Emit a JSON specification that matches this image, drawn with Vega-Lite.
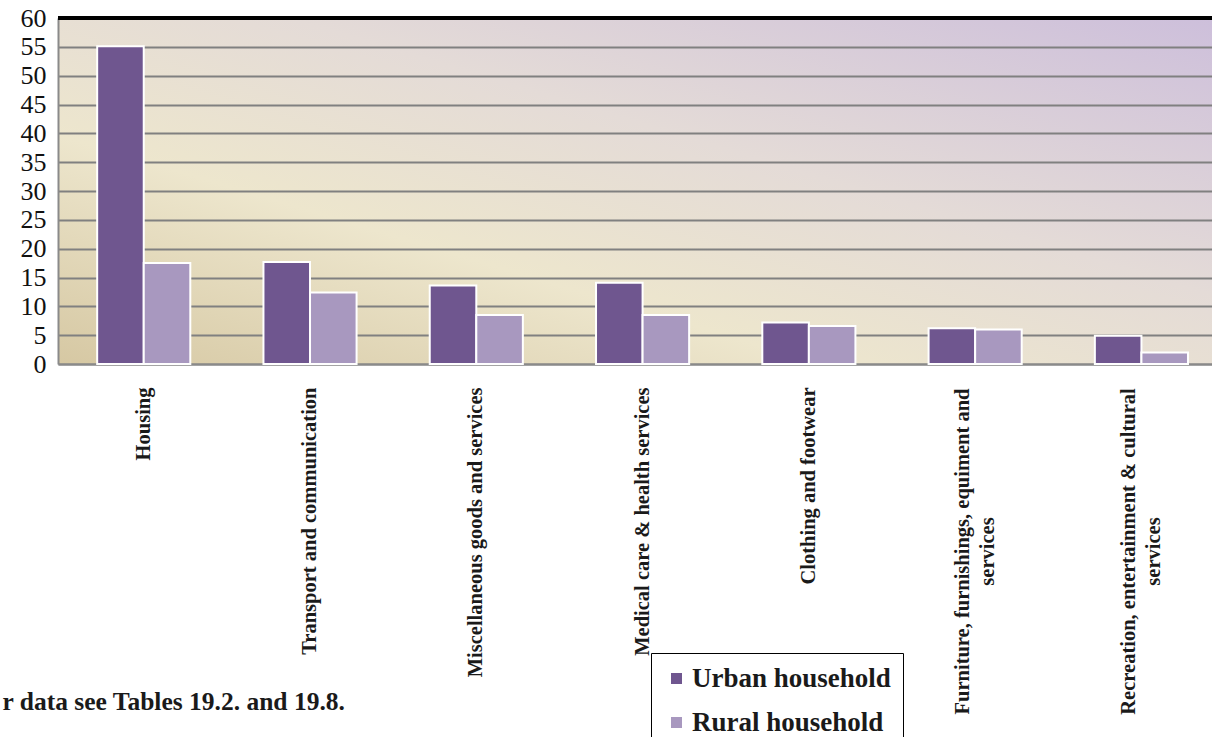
{
  "$schema": "https://vega.github.io/schema/vega-lite/v6.json",
  "width": 1154,
  "height": 346,
  "autosize": {"type": "none"},
  "padding": {"left": 58, "top": 18, "right": 0, "bottom": 373},
  "background": "white",
  "config": {
    "view": {
      "stroke": null,
      "fill": {
        "gradient": "linear",
        "x1": 0, "y1": 1, "x2": 1, "y2": 0,
        "stops": [
          {"offset": 0, "color": "#d6c8a3"},
          {"offset": 0.33, "color": "#ede6cd"},
          {"offset": 0.6, "color": "#e4dbd7"},
          {"offset": 1, "color": "#cdbfdb"}
        ]
      }
    },
    "font": "Liberation Serif"
  },
  "data": {
    "values": [
      {"category": "Housing", "household": "Urban household", "value": 55.1},
      {"category": "Housing", "household": "Rural household", "value": 17.5},
      {"category": "Transport and communication", "household": "Urban household", "value": 17.7},
      {"category": "Transport and communication", "household": "Rural household", "value": 12.4},
      {"category": "Miscellaneous goods and services", "household": "Urban household", "value": 13.6},
      {"category": "Miscellaneous goods and services", "household": "Rural household", "value": 8.5},
      {"category": "Medical care & health services", "household": "Urban household", "value": 14.1},
      {"category": "Medical care & health services", "household": "Rural household", "value": 8.5},
      {"category": "Clothing and footwear", "household": "Urban household", "value": 7.2},
      {"category": "Clothing and footwear", "household": "Rural household", "value": 6.6},
      {"category": "Furniture, furnishings, equiment and services", "household": "Urban household", "value": 6.2},
      {"category": "Furniture, furnishings, equiment and services", "household": "Rural household", "value": 6.0},
      {"category": "Recreation, entertainment & cultural services", "household": "Urban household", "value": 4.9},
      {"category": "Recreation, entertainment & cultural services", "household": "Rural household", "value": 2.0}
    ]
  },
  "resolve": {"axis": {"y": "independent"}},
  "layer": [
    {
      "mark": {"type": "bar", "stroke": "white", "strokeWidth": 2},
      "encoding": {
        "x": {
          "field": "category",
          "type": "nominal",
          "sort": null,
          "scale": {"paddingInner": 0.44, "paddingOuter": 0.19, "align": 0.62},
          "axis": {
            "title": "r data see Tables 19.2. and 19.8.",
            "titleX": -56,
            "titleY": 337,
            "titleAlign": "left",
            "titleBaseline": "middle",
            "titleAngle": 0,
            "titleFont": "Liberation Serif",
            "titleFontSize": 25.5,
            "titleFontWeight": "bold",
            "titleColor": "#1a1a1a",
            "labelAngle": -90,
            "labelAlign": {"condition": {"test": "length(datum.value) > 40", "value": "center"}, "value": "right"},
            "labelPadding": {"condition": {"test": "length(datum.value) > 40", "value": 187}, "value": 23},
            "labelOffset": {"condition": {"test": "length(datum.value) > 40", "value": -12}, "value": 0},
            "labelBaseline": "middle",
            "labelFont": "Liberation Serif",
            "labelFontSize": 20.5,
            "labelFontWeight": "bold",
            "labelColor": "#1a1a1a",
            "labelLineHeight": 25,
            "labelLimit": 1000,
            "labelOverlap": false,
            "labelExpr": "datum.label == 'Furniture, furnishings, equiment and services' ? ['Furniture, furnishings, equiment and', 'services'] : datum.label == 'Recreation, entertainment & cultural services' ? ['Recreation, entertainment & cultural', 'services'] : datum.label",
            "ticks": false,
            "domainColor": "#8a8a8a",
            "domainWidth": 2
          }
        },
        "xOffset": {
          "field": "household",
          "type": "nominal",
          "scale": {"domain": ["Urban household", "Rural household"], "paddingInner": 0, "paddingOuter": 0}
        },
        "y": {
          "field": "value",
          "type": "quantitative",
          "scale": {"domain": [0, 60], "nice": false},
          "axis": {
            "title": null,
            "values": [0, 5, 10, 15, 20, 25, 30, 35, 40, 45, 50, 55, 60],
            "labelOverlap": false,
            "ticks": false,
            "grid": true,
            "gridColor": "#808080",
            "gridWidth": 2,
            "domainColor": "#8a8a8a",
            "domainWidth": 2,
            "labelFont": "Liberation Serif",
            "labelFontSize": 26,
            "labelColor": "#111111",
            "labelPadding": 12
          }
        },
        "color": {
          "field": "household",
          "type": "nominal",
          "scale": {"domain": ["Urban household", "Rural household"], "range": ["#6f568f", "#a898bf"]},
          "legend": {
            "title": null,
            "orient": "none",
            "legendX": 593,
            "legendY": 635,
            "fillColor": "white",
            "strokeColor": "black",
            "padding": 12,
            "symbolType": "square",
            "symbolSize": 121,
            "symbolStrokeWidth": 0,
            "labelFont": "Liberation Serif",
            "labelFontSize": 27,
            "labelFontWeight": "bold",
            "labelColor": "#1a1a1a",
            "rowPadding": 16,
            "labelOffset": 2,
            "labelLimit": 400
          }
        }
      }
    },
    {
      "mark": {"type": "rule", "color": "black", "strokeWidth": 3},
      "encoding": {"y": {"datum": 60, "axis": null}}
    }
  ]
}
